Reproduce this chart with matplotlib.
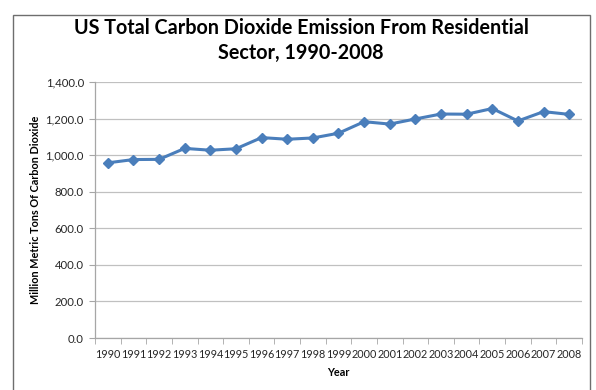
import matplotlib.pyplot as plt
from matplotlib.patches import Rectangle
from matplotlib.ticker import FuncFormatter

years = [str(y) for y in range(1990, 2009)]
emissions = [958, 976, 977, 1037, 1027, 1035, 1096, 1087, 1094, 1120,
             1183, 1170, 1198, 1225, 1224, 1255, 1187, 1238, 1223]

plt.rcParams['font.family'] = ['Lato', 'DejaVu Sans']

fig = plt.figure(figsize=(5.96, 3.9), dpi=100)
ax = fig.add_axes([0.1594, 0.1333, 0.8171, 0.6564])

# chart frame
fig.patches.append(Rectangle((13/596, -0.05), 577/596, 1.0115, transform=fig.transFigure,
                             fill=False, edgecolor='#6e6e6e', linewidth=1.0))

x = list(range(len(years)))
ax.plot(x, emissions, color='#4a7ebb', linewidth=2.2, marker='D', markersize=5.5,
        markeredgecolor='#4a7ebb', markerfacecolor='#4a7ebb')

ax.set_ylim(0, 1400)
ax.set_yticks(range(0, 1401, 200))
ax.yaxis.set_major_formatter(FuncFormatter(lambda v, p: f'{v:,.1f}'))
ax.set_xlim(-0.5, len(years) - 0.5)
ax.set_xticks(x)
ax.set_xticklabels(years)
ax.set_xticks([i - 0.5 for i in range(len(years) + 1)], minor=True)
ax.tick_params(axis='x', which='major', length=0, pad=8, labelsize=7.8, colors='#262626')
ax.tick_params(axis='x', which='minor', length=4, color='#a6a6a6')
ax.tick_params(axis='y', length=4, labelsize=8.2, colors='#262626', pad=4)
ax.tick_params(axis='y', color='#a6a6a6')

ax.grid(axis='y', color='#c0c0c0', linewidth=0.9)
ax.set_axisbelow(True)
for s in ['top', 'right']:
    ax.spines[s].set_visible(False)
for s in ['left', 'bottom']:
    ax.spines[s].set_color('#a6a6a6')
    ax.spines[s].set_linewidth(0.9)

ax.set_xlabel('Year', fontsize=7.8, fontweight='bold', labelpad=5)
ax.set_ylabel('Million Metric Tons Of Carbon Dioxide', fontsize=7.8, fontweight='bold', labelpad=3)
fig.text(0.505, 0.896, 'US Total Carbon Dioxide Emission From Residential\nSector, 1990-2008',
         ha='center', va='center', fontsize=14.2, fontweight='bold', linespacing=1.3)

fig.savefig('out.png', dpi=100)
